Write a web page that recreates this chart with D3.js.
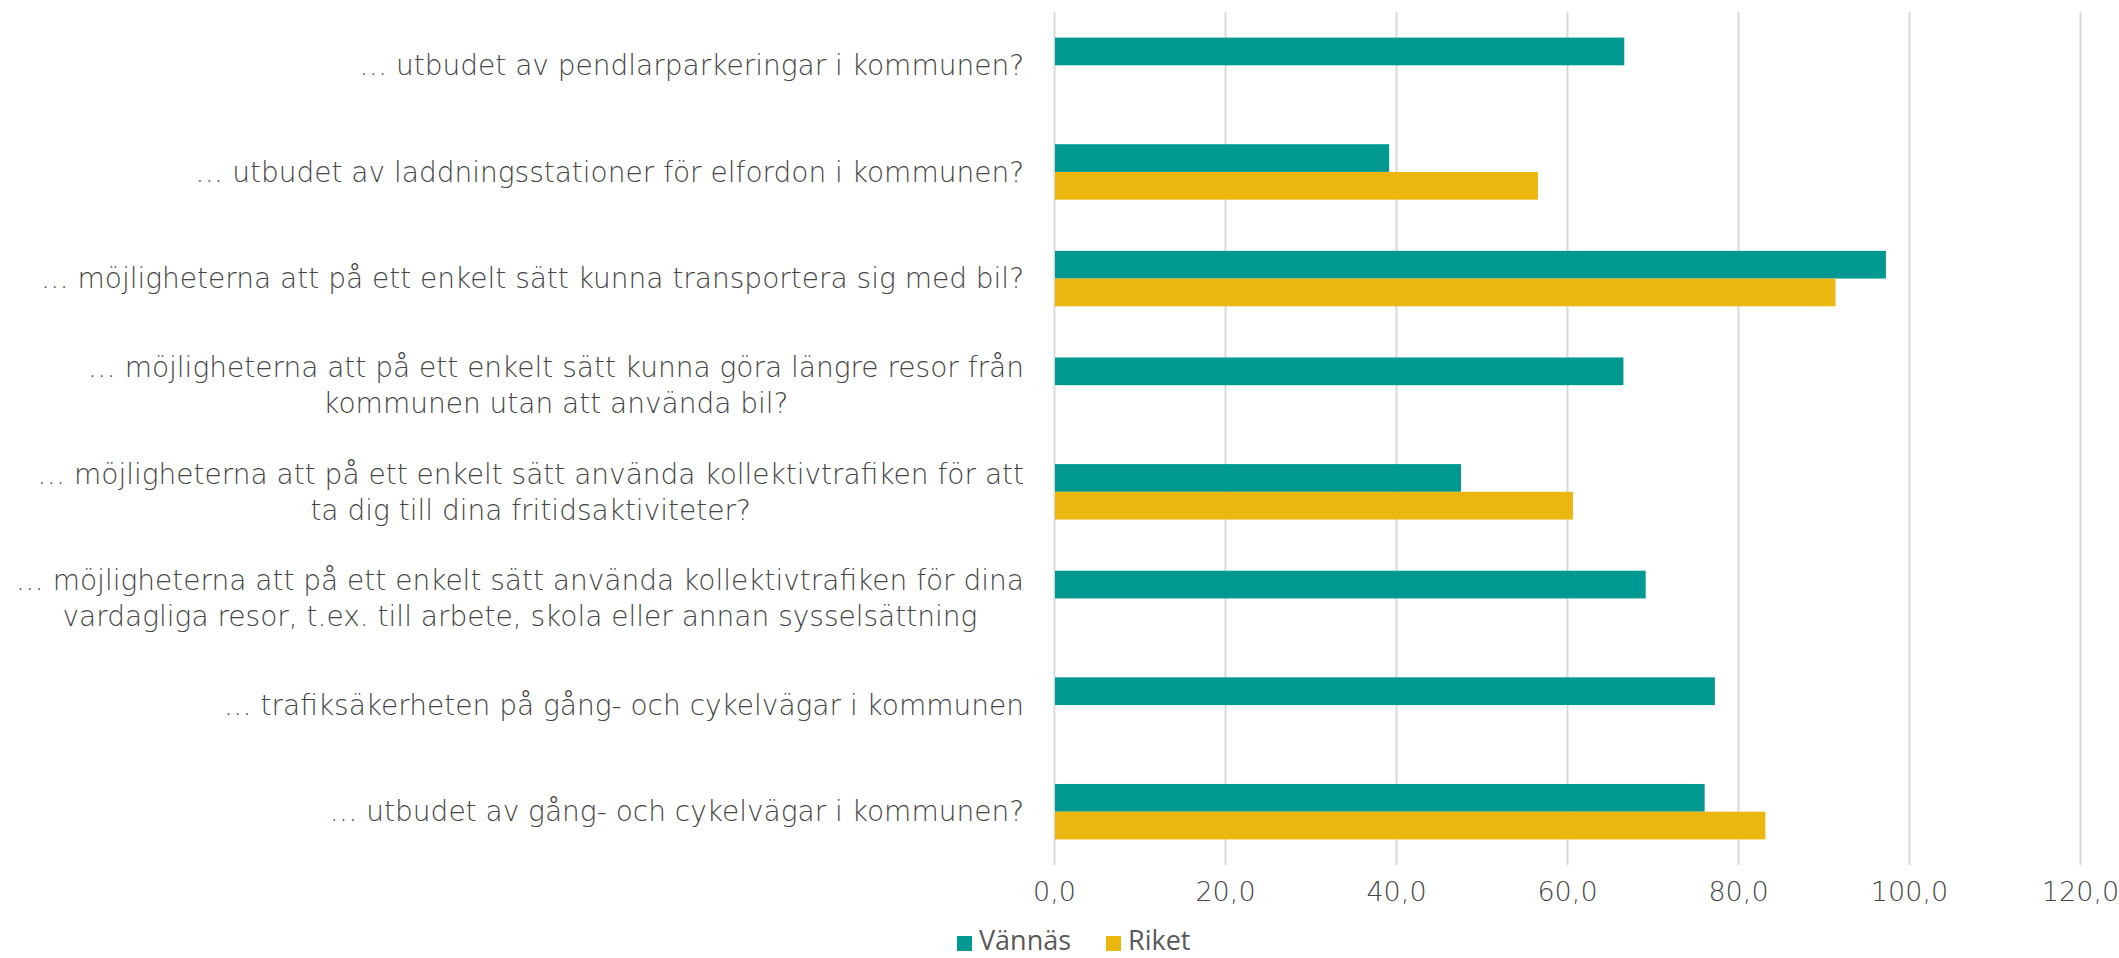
<!DOCTYPE html>
<html>
<head>
<meta charset="utf-8">
<script src="https://cdn.jsdelivr.net/npm/d3@7"></script>
<style>
  body { margin: 0; background: #fff; }
  .cat { font-family: "Century Gothic", "DejaVu Sans", sans-serif; font-weight: 200; font-size: 28px; fill: #454545; }
  .tick text { font-family: "Century Gothic", "DejaVu Sans", sans-serif; font-weight: 200; font-size: 27px; fill: #454545; }
  .legend text { font-family: "Open Sans", sans-serif; font-size: 27px; fill: #595959; }
</style>
</head>
<body>
<div id="chart"></div>
<script>
"use strict";

// Data
// ----

var categories = [
  ["… utbudet av pendlarparkeringar i kommunen?"],
  ["… utbudet av laddningsstationer för elfordon i kommunen?"],
  ["… möjligheterna att på ett enkelt sätt kunna transportera sig med bil?"],
  ["… möjligheterna att på ett enkelt sätt kunna göra längre resor från", "kommunen utan att använda bil?"],
  ["… möjligheterna att på ett enkelt sätt använda kollektivtrafiken för att", "ta dig till dina fritidsaktiviteter?"],
  ["… möjligheterna att på ett enkelt sätt använda kollektivtrafiken för dina", "vardagliga resor, t.ex. till arbete, skola eller annan sysselsättning"],
  ["… trafiksäkerheten på gång- och cykelvägar i kommunen"],
  ["… utbudet av gång- och cykelvägar i kommunen?"]
];

var series = ["Vännäs", "Riket"];

var vannas = [66.7, 39.2, 97.3, 66.6, 47.6, 69.2, 77.3, 76.1];
var riket  = [null, 56.6, 91.4, null, 60.7, null, null, 83.2];

var ticks = [0, 20, 40, 60, 80, 100, 120];

var colors = ["#009991", "#EBB70F"];


// Layout
// ------

var width = 2119, height = 958;

var svg = d3.select("#chart").append("svg")
    .attr("width", width)
    .attr("height", height);

var x = d3.scaleLinear().domain([0, 120]).range([1054, 2080]);

var y = d3.scaleBand()
    .domain(d3.range(categories.length))
    .range([12, 865])
    .paddingInner(0.48)
    .paddingOuter(0.24);

var ys = d3.scaleBand().domain(series).range([0, y.bandwidth()]);


// Grid and axis

var axis = d3.axisBottom(x)
    .tickValues(ticks)
    .tickSize(-(865 - 12))
    .tickPadding(17)
    .tickFormat(function(d) { return d3.format(".1f")(d).replace(".", ","); });

var gx = svg.append("g")
    .attr("transform", "translate(0,865)")
    .call(axis);

gx.select(".domain").remove();
gx.selectAll(".tick line").attr("stroke", "#d9d9d9").attr("stroke-width", 2);


// Bars

var rows = categories.map(function(c, i) {
  return [{s: series[0], v: vannas[i], c: colors[0]},
          {s: series[1], v: riket[i],  c: colors[1]}];
});

svg.append("g").selectAll("g")
  .data(rows)
  .join("g")
    .attr("transform", function(d, i) { return "translate(0," + y(i) + ")"; })
  .selectAll("rect")
  .data(function(d) { return d.filter(function(b) { return b.v != null; }); })
  .join("rect")
    .attr("x", x(0) + 1)
    .attr("y", function(d) { return ys(d.s); })
    .attr("width", function(d) { return x(d.v) - x(0) - 1; })
    .attr("height", ys.bandwidth())
    .attr("fill", function(d) { return d.c; });


// Category labels

var right = 1024, lh = 36;

categories.forEach(function(lines, i) {
  var g = svg.append("g").attr("class", "cat");
  var cy = y(i) + y.bandwidth() / 2;
  var texts = lines.map(function(l, k) {
    return g.append("text")
        .attr("y", cy + (k - (lines.length - 1) / 2) * lh)
        .attr("dy", "0.35em")
        .attr("text-anchor", "middle")
        .text(l);
  });
  var w = d3.max(texts, function(t) { return t.node().getComputedTextLength(); });
  texts.forEach(function(t) { t.attr("x", right - w / 2); });
});


// Legend

var legend = svg.append("g").attr("class", "legend");
var lx = [957, 1106];

series.forEach(function(s, i) {
  legend.append("rect")
      .attr("x", lx[i]).attr("y", 936)
      .attr("width", 15).attr("height", 15)
      .attr("fill", colors[i]);
  legend.append("text")
      .attr("x", lx[i] + 22).attr("y", 950)
      .text(s);
});
</script>
</body>
</html>
